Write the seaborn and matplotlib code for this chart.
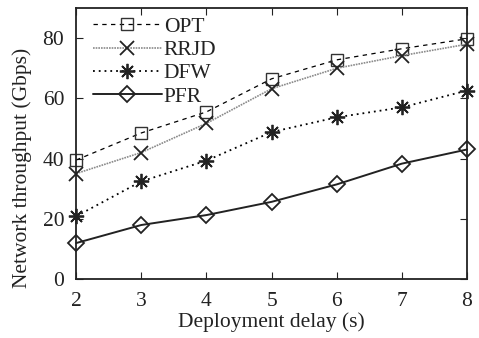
import matplotlib
matplotlib.use("Agg")
import matplotlib.pyplot as plt
import seaborn as sns
import pandas as pd

delay = [2, 3, 4, 5, 6, 7, 8]
opt = [39.5, 48.5, 55.5, 66.5, 72.8, 76.5, 79.8]
rrjd = [35.0, 42.0, 51.7, 63.2, 70.0, 74.2, 78.0]
dfw = [20.8, 32.4, 39.3, 48.8, 53.7, 57.0, 62.6]
pfr = [11.9, 17.9, 21.2, 25.6, 31.4, 38.3, 43.0]

sns.set_style("ticks")
plt.rcParams["font.family"] = ["Liberation Serif", "DejaVu Serif"]

FS = 15.5
INK = "#222222"

fig = plt.figure(figsize=(4.79, 3.38), dpi=100)
ax = fig.add_axes([0.159, 0.175, 0.816, 0.801])

styles = [
    ("OPT", opt, dict(color="black", linestyle=(0, (3.5, 3.5)), linewidth=0.9,
                      marker="s", markersize=9, markerfacecolor="none",
                      markeredgecolor="#333333", markeredgewidth=1.0)),
    ("RRJD", rrjd, dict(color="#8a8a8a", linestyle=(0, (1, 0.6)), linewidth=1.2,
                        marker="x", markersize=10, markeredgecolor=INK,
                        markeredgewidth=1.3)),
    ("DFW", dfw, dict(color="black", linestyle=(0, (1, 2.2)), linewidth=1.3,
                      marker=(8, 2, 0), markersize=11, markeredgecolor=INK,
                      markeredgewidth=1.3)),
    ("PFR", pfr, dict(color=INK, linestyle="-", linewidth=1.4,
                      marker="D", markersize=8, markerfacecolor="none",
                      markeredgecolor=INK, markeredgewidth=1.3)),
]

for name, vals, kw in styles:
    df = pd.DataFrame({"delay": delay, "throughput": vals})
    sns.lineplot(data=df, x="delay", y="throughput", ax=ax, label=name,
                 clip_on=False, **kw)

ax.set_xlim(2, 8)
ax.set_ylim(0, 90)
ax.set_xticks(delay)
ax.set_yticks([0, 20, 40, 60, 80])
ax.tick_params(direction="in", top=True, right=True, length=5, width=0.8,
               labelsize=FS, colors=INK, labelcolor=INK)
ax.tick_params(axis="y", pad=8.5)
ax.tick_params(axis="x", pad=9.5)
for s in ax.spines.values():
    s.set_linewidth(1.3)
    s.set_color(INK)
ax.set_xlabel("Deployment delay (s)", fontsize=FS, color=INK)
ax.set_ylabel("Network throughput (Gbps)", fontsize=FS, color=INK)
ax.xaxis.set_label_coords(0.5, -0.125)
ax.yaxis.set_label_coords(-0.113, 0.41)

leg = ax.legend(loc="upper left", frameon=False, fontsize=FS, handlelength=3.2,
                handletextpad=0.1, labelspacing=0.15, borderaxespad=0.1,
                bbox_to_anchor=(0.015, 1.008))
for t in leg.get_texts():
    t.set_color(INK)

fig.savefig("out.png", dpi=100)
